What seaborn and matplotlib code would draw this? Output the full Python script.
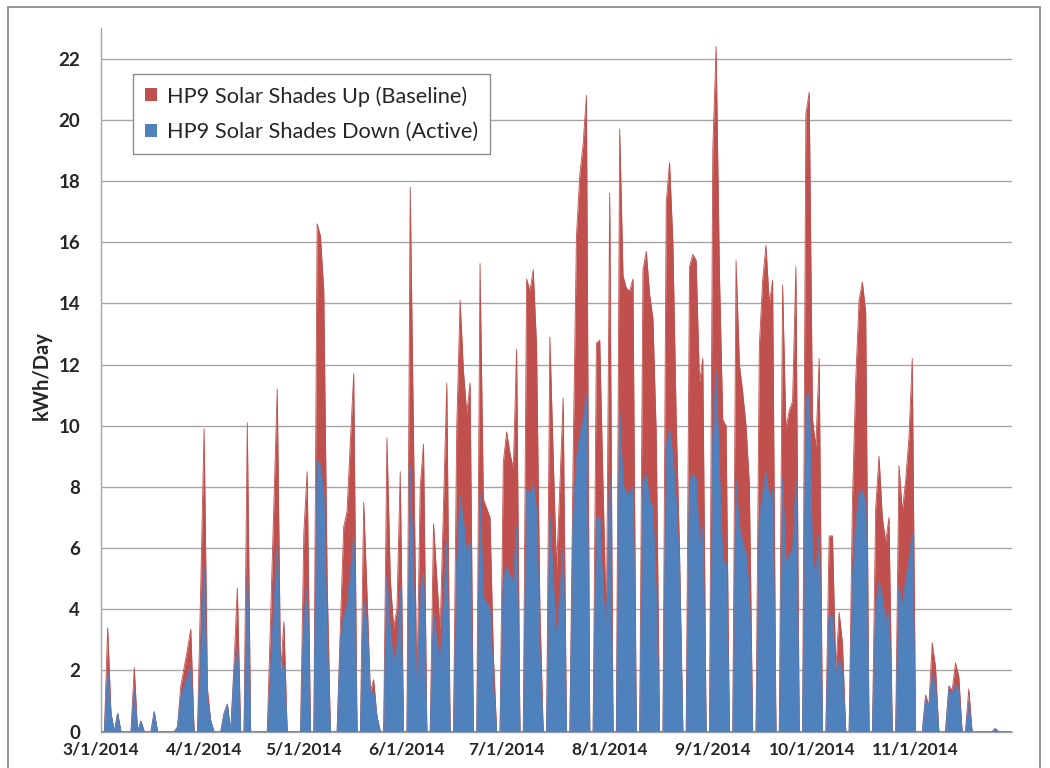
import pandas as pd
import matplotlib
matplotlib.use("Agg")
import matplotlib.pyplot as plt
from matplotlib.patches import Rectangle
import seaborn as sns

sns.set_style("white")
plt.rcParams["font.family"] = ["Lato", "DejaVu Sans"]

# Daily kWh, 3/1/2014 .. 11/30/2014 (weekends ~0)
baseline_mar = [0, 0, 3.4, 0.6, 0, 0.6, 0, 0, 0, 0, 2.1, 0, 0.35, 0, 0, 0,
                0.65, 0, 0, 0, 0, 0, 0, 0.15, 1.5, 2.1, 2.7, 3.35, 0, 0, 4.8]
active_mar = [0, 0, 2.0, 0.6, 0, 0.6, 0, 0, 0, 0, 1.35, 0, 0.35, 0, 0, 0,
              0.65, 0, 0, 0, 0, 0, 0, 0.15, 1.15, 1.5, 1.8, 2.1, 0, 0, 2.6]

baseline_apr = [9.9, 1.4, 0.35, 0, 0, 0, 0.6, 0.9, 0, 2.2, 4.7, 0, 0, 10.1, 0,
                0, 0, 0, 0, 0, 3.7, 7.5, 11.2, 1.9, 3.6, 0, 0, 0, 0, 0]
active_apr = [5.4, 1.0, 0.35, 0, 0, 0, 0.6, 0.9, 0, 2.0, 2.8, 0, 0, 5.3, 0,
              0, 0, 0, 0, 0, 2.0, 4.1, 6.2, 1.9, 2.2, 0, 0, 0, 0, 0]

baseline_may = [6.5, 8.5, 0, 0, 16.6, 16.2, 14.4, 5.0, 0, 0, 0, 3.5, 6.7, 7.2,
                9.5, 11.7, 0, 0, 7.5, 4.5, 1.3, 1.7, 0.5, 0, 0, 9.6, 5.0, 3.4,
                4.0, 8.5, 0]
active_may = [3.8, 4.7, 0, 0, 8.9, 8.7, 7.8, 3.0, 0, 0, 0, 3.0, 3.8, 4.1,
              5.2, 6.4, 0, 0, 4.3, 3.5, 1.2, 1.3, 0.5, 0, 0, 5.1, 3.3, 2.3,
              2.7, 4.7, 0]

baseline_jun = [0, 17.8, 9.5, 1.3, 8.0, 9.4, 0, 0, 6.8, 5.0, 3.3, 7.4, 11.4,
                0, 0, 10.0, 14.1, 11.8, 10.4, 11.4, 0, 0, 15.3, 7.6, 7.3, 7.0,
                2.5, 0, 0, 8.8]
active_jun = [0, 8.7, 5.0, 1.0, 4.6, 5.2, 0, 0, 3.9, 3.0, 2.2, 4.2, 6.2,
              0, 0, 5.5, 7.7, 6.9, 5.8, 6.2, 0, 0, 7.8, 4.4, 4.2, 4.0,
              1.5, 0, 0, 5.0]

baseline_jul = [9.8, 9.1, 8.6, 12.5, 0, 0, 14.8, 14.4, 15.1, 12.6, 4.0, 0, 0,
                12.9, 9.0, 5.3, 8.0, 10.9, 0, 0, 9.0, 16.2, 18.2, 19.2, 20.8,
                0, 0, 12.7, 12.8, 8.0, 3.5]
active_jul = [5.4, 5.1, 4.9, 6.7, 0, 0, 7.9, 7.8, 8.1, 7.2, 2.5, 0, 0,
              7.1, 5.0, 3.0, 4.5, 6.0, 0, 0, 7.0, 8.9, 9.7, 10.2, 11.0,
              0, 0, 7.0, 7.0, 4.5, 3.4]

baseline_aug = [17.6, 0, 0, 19.7, 14.9, 14.5, 14.4, 14.8, 0, 0, 15.1, 15.7,
                14.3, 13.5, 9.7, 0, 0, 17.3, 18.6, 16.0, 10.2, 5.9, 0, 0,
                15.2, 15.6, 15.4, 11.4, 12.2, 0, 0]
active_aug = [8.5, 0, 0, 10.5, 8.1, 7.8, 7.8, 8.0, 0, 0, 8.2, 8.4,
              7.6, 7.3, 4.4, 0, 0, 9.3, 9.9, 9.0, 7.5, 5.2, 0, 0,
              8.2, 8.4, 8.3, 6.1, 6.7, 0, 0]

baseline_sep = [19.0, 22.4, 15.0, 10.2, 10.0, 0, 0, 15.4, 12.0, 11.1, 10.0,
                8.1, 0, 0, 12.6, 14.75, 15.9, 14.0, 14.75, 0, 0, 14.6, 9.9,
                10.5, 10.8, 15.2, 0, 0, 20.2, 20.9]
active_sep = [9.5, 11.8, 8.5, 5.6, 5.5, 0, 0, 8.2, 6.7, 6.2, 5.8,
              4.6, 0, 0, 7.0, 7.75, 8.5, 7.6, 7.9, 0, 0, 8.3, 5.5,
              5.8, 5.9, 8.2, 0, 0, 10.9, 11.1]

baseline_oct = [10.2, 9.3, 12.2, 0, 0, 6.4, 6.4, 2.0, 3.9, 2.9, 0, 0, 7.5,
                11.5, 14.1, 14.7, 13.7, 0, 0, 7.3, 9.0, 7.0, 6.2, 7.0, 0, 0,
                8.7, 7.2, 8.2, 9.6, 12.2]
active_oct = [5.6, 5.2, 6.5, 0, 0, 3.8, 3.8, 1.9, 2.4, 1.9, 0, 0, 5.0,
              6.8, 7.8, 7.9, 7.45, 0, 0, 4.1, 4.9, 4.4, 3.6, 3.9, 0, 0,
              4.8, 4.1, 4.9, 5.6, 6.5]

baseline_nov = [0, 0, 0, 1.2, 0.85, 2.9, 2.1, 0, 0, 0, 1.5, 1.35, 2.25, 1.8,
                0, 0, 1.4, 0, 0, 0, 0, 0, 0, 0, 0.1, 0, 0, 0, 0, 0]
active_nov = [0, 0, 0, 1.05, 0.85, 1.9, 1.4, 0, 0, 0, 1.4, 1.2, 1.55, 1.3,
              0, 0, 0.95, 0, 0, 0, 0, 0, 0, 0, 0.1, 0, 0, 0, 0, 0]

month_ticks = ["3/1/2014", "4/1/2014", "5/1/2014", "6/1/2014", "7/1/2014",
               "8/1/2014", "9/1/2014", "10/1/2014", "11/1/2014"]
y_ticks = list(range(0, 23, 2))

baseline = (baseline_mar + baseline_apr + baseline_may + baseline_jun + baseline_jul
            + baseline_aug + baseline_sep + baseline_oct + baseline_nov)
active = (active_mar + active_apr + active_may + active_jun + active_jul
          + active_aug + active_sep + active_oct + active_nov)

df = pd.DataFrame({
    "date": pd.date_range("2014-03-01", "2014-11-30", freq="D"),
    "baseline": baseline,
    "active": active,
})

RED = "#C0504D"
BLUE = "#4F81BD"
GRID = "#A6A6A6"

fig, ax = plt.subplots(figsize=(10.5, 7.68), dpi=100)
fig.subplots_adjust(left=0.0962, right=0.9638, bottom=0.0473, top=0.9635)

# areas overlap (not stacked): baseline behind, active in front
h_red = ax.fill_between(df["date"], df["baseline"], color=RED, linewidth=0, zorder=2)
h_blue = ax.fill_between(df["date"], df["active"], color=BLUE, linewidth=0, zorder=3)
sns.lineplot(data=df, x="date", y="baseline", color=RED, linewidth=0.6, ax=ax, zorder=2)
sns.lineplot(data=df, x="date", y="active", color=BLUE, linewidth=0.6, ax=ax, zorder=3)

ax.set_xlim(df["date"].iloc[0], df["date"].iloc[-1])
ax.set_ylim(0, 23)
ax.set_xlabel("")
ax.set_ylabel("")

ax.set_xticks(pd.to_datetime(month_ticks, format="%m/%d/%Y"))
ax.set_xticklabels(month_ticks, fontsize=12.5, fontweight="bold")
ax.set_yticks(y_ticks)
ax.set_yticklabels([str(v) for v in y_ticks], fontsize=13.5, fontweight="bold")
ax.tick_params(axis="x", direction="out", length=4, width=1, color=GRID, pad=3)
ax.tick_params(axis="y", direction="out", length=6, width=1, color=GRID, pad=9)

ax.grid(axis="y", color=GRID, linewidth=1, zorder=0)
ax.set_axisbelow(True)
for side in ["top", "right"]:
    ax.spines[side].set_visible(False)
for side in ["left", "bottom"]:
    ax.spines[side].set_color(GRID)
    ax.spines[side].set_linewidth(1)

fig.text(0.04, 1 - 376 / 768, "kWh/Day", rotation=90, ha="center", va="center",
         fontsize=14.5, fontweight="bold")

leg = ax.legend([h_red, h_blue],
                ["HP9 Solar Shades Up (Baseline)", "HP9 Solar Shades Down (Active)"],
                loc="upper left", bbox_to_anchor=(133 / 1050, 1 - 74 / 768),
                bbox_transform=fig.transFigure, fontsize=15.7, frameon=True,
                fancybox=False, edgecolor="#8C8C8C", framealpha=1,
                handlelength=0.55, handleheight=0.55, handletextpad=0.45,
                labelspacing=0.7, borderpad=0.55, borderaxespad=0)
leg.get_frame().set_linewidth(1)

# outer chart border
fig.patches.append(Rectangle((8 / 1050, -0.02), 1032 / 1050, 1 - 7 / 768 + 0.02,
                             transform=fig.transFigure, fill=False,
                             edgecolor="#8C8C8C", linewidth=1.3))

fig.savefig("out.png", dpi=100)
